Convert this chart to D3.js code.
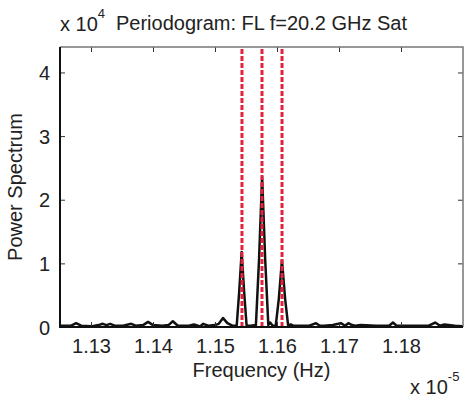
<!DOCTYPE html>
<html>
<head>
<meta charset="utf-8">
<script src="https://cdn.jsdelivr.net/npm/d3@7"></script>
<style>
  body { margin: 0; background: #fff; }
  svg text { font-family: "Liberation Sans", Arial, sans-serif; fill: #222; }
</style>
</head>
<body>
<svg id="chart" width="466" height="401"></svg>
<script>
// frequency in units of 1e-5 Hz, power in units of 1e4
var freq = [1.1250, 1.1268, 1.1276, 1.1284, 1.1300, 1.1312, 1.1319, 1.1325, 1.1331, 1.1338,
  1.1352, 1.1365, 1.1372, 1.1384, 1.1392, 1.1400, 1.1415, 1.1425, 1.1432, 1.1440,
  1.1458, 1.1466, 1.1476, 1.1481, 1.1489, 1.1500, 1.1506, 1.1513, 1.1520, 1.1528,
  1.1535, 1.1539, 1.1543, 1.1547, 1.1551, 1.1557, 1.1566, 1.1571, 1.1576, 1.1581,
  1.1586, 1.1589, 1.1593, 1.1598, 1.1603, 1.1608, 1.1613, 1.1618, 1.1622, 1.1626,
  1.1634, 1.1652, 1.1663, 1.1669, 1.1676, 1.1690, 1.1703, 1.1710, 1.1715, 1.1721,
  1.1726, 1.1735, 1.1760, 1.1781, 1.1787, 1.1793, 1.1820, 1.1845, 1.1855, 1.1863,
  1.1870, 1.1887, 1.1900];
var power = [0.02, 0.02, 0.06, 0.02, 0.01, 0.03, 0.05, 0.03, 0.05, 0.02,
  0.02, 0.05, 0.02, 0.03, 0.08, 0.03, 0.02, 0.03, 0.09, 0.02,
  0.02, 0.04, 0.01, 0.05, 0.02, 0.03, 0.05, 0.14, 0.06, 0.02,
  0.02, 0.55, 1.18, 0.55, 0.02, 0.02, 0.03, 1.05, 2.36, 1.05,
  0.03, 0.07, 0.02, 0.02, 0.45, 1.05, 0.45, 0.02, 0.04, 0.02,
  0.02, 0.02, 0.06, 0.02, 0.02, 0.03, 0.06, 0.02, 0.06, 0.03,
  0.02, 0.03, 0.02, 0.02, 0.07, 0.02, 0.02, 0.02, 0.07, 0.02,
  0.04, 0.02, 0.01];
var peakFreq = [1.15435, 1.15758, 1.16081];
var xTicks = [1.13, 1.14, 1.15, 1.16, 1.17, 1.18];
var yTicks = [0, 1, 2, 3, 4];

var svg = d3.select("#chart");
var mL = 60, mR = 463, mT = 47, mB = 327;

var x = d3.scaleLinear().domain([1.125, 1.19]).range([mL, mR]);
var y = d3.scaleLinear().domain([0, 4.4]).range([mB, mT]);

var pts = freq.map(function(f, i){ return {f: f, p: power[i]}; });

var line = d3.line()
  .x(function(d){ return x(d.f); })
  .y(function(d){ return y(d.p); });

svg.append("defs").append("clipPath").attr("id", "clip")
  .append("rect").attr("x", mL).attr("y", mT).attr("width", mR - mL).attr("height", mB - mT);

var g = svg.append("g").attr("clip-path", "url(#clip)");

g.append("path")
  .datum(pts)
  .attr("d", line)
  .attr("fill", "none")
  .attr("stroke", "#111")
  .attr("stroke-width", 2.5)
  .attr("stroke-linejoin", "round");

g.selectAll(".peak")
  .data(peakFreq)
  .enter()
  .append("line")
    .attr("class", "peak")
    .attr("x1", function(d){ return x(d); })
    .attr("x2", function(d){ return x(d); })
    .attr("y1", y(0))
    .attr("y2", mT)
    .attr("stroke", "#e2233d")
    .attr("stroke-width", 3)
    .attr("stroke-dasharray", "5,2");

// axes, MATLAB style ticks pointing inward
var xAxis = d3.axisBottom(x).tickValues(xTicks).tickSize(-5).tickPadding(10)
  .tickFormat(d3.format(".2f"));
var gx = svg.append("g").attr("transform", "translate(0," + mB + ")").call(xAxis);
var gxt = svg.append("g").attr("transform", "translate(0," + mT + ")")
  .call(d3.axisTop(x).tickValues(xTicks).tickSize(-5).tickFormat(""));
var yAxis = d3.axisLeft(y).tickValues(yTicks).tickSize(-5).tickPadding(10).tickFormat(d3.format("d"));
var gy = svg.append("g").attr("transform", "translate(" + mL + ",0)").call(yAxis);
var gyr = svg.append("g").attr("transform", "translate(" + mR + ",0)")
  .call(d3.axisRight(y).tickValues(yTicks).tickSize(-5).tickFormat(""));

[gx, gxt, gy, gyr].forEach(function(a){
  a.select(".domain").remove();
  a.selectAll("line").attr("stroke", "#333").attr("stroke-width", 1);
  a.selectAll("text").style("font-size", "20px").attr("fill", "#222");
});
gx.selectAll("text").attr("dy", "0.8em");
gy.selectAll("text").attr("dy", "0.36em");

// frame
svg.append("path")
  .attr("d", "M" + mL + "," + mT + "H" + mR + "V" + mB)
  .attr("fill", "none").attr("stroke", "#777").attr("stroke-width", 1.5);
svg.append("path")
  .attr("d", "M" + mL + "," + mT + "V" + mB + "H" + mR)
  .attr("fill", "none").attr("stroke", "#111").attr("stroke-width", 2);

// titles and labels
svg.append("text")
  .attr("x", (mL + mR) / 2).attr("y", 30)
  .attr("text-anchor", "middle")
  .style("font-size", "20px")
  .text("Periodogram: FL f=20.2 GHz Sat");

var e1 = svg.append("text").attr("x", 60).attr("y", 31).style("font-size", "20px");
e1.append("tspan").text("x 10");
e1.append("tspan").attr("dy", -13).style("font-size", "13px").text("4");

var e2 = svg.append("text").attr("x", 410).attr("y", 394).style("font-size", "20px");
e2.append("tspan").text("x 10");
e2.append("tspan").attr("dy", -13).style("font-size", "13px").text("-5");

svg.append("text")
  .attr("x", (mL + mR) / 2).attr("y", 377)
  .attr("text-anchor", "middle")
  .style("font-size", "20px")
  .text("Frequency (Hz)");

svg.append("text")
  .attr("transform", "translate(22," + (mT + mB) / 2 + ") rotate(-90)")
  .attr("text-anchor", "middle")
  .style("font-size", "20px")
  .text("Power Spectrum");
</script>
</body>
</html>
